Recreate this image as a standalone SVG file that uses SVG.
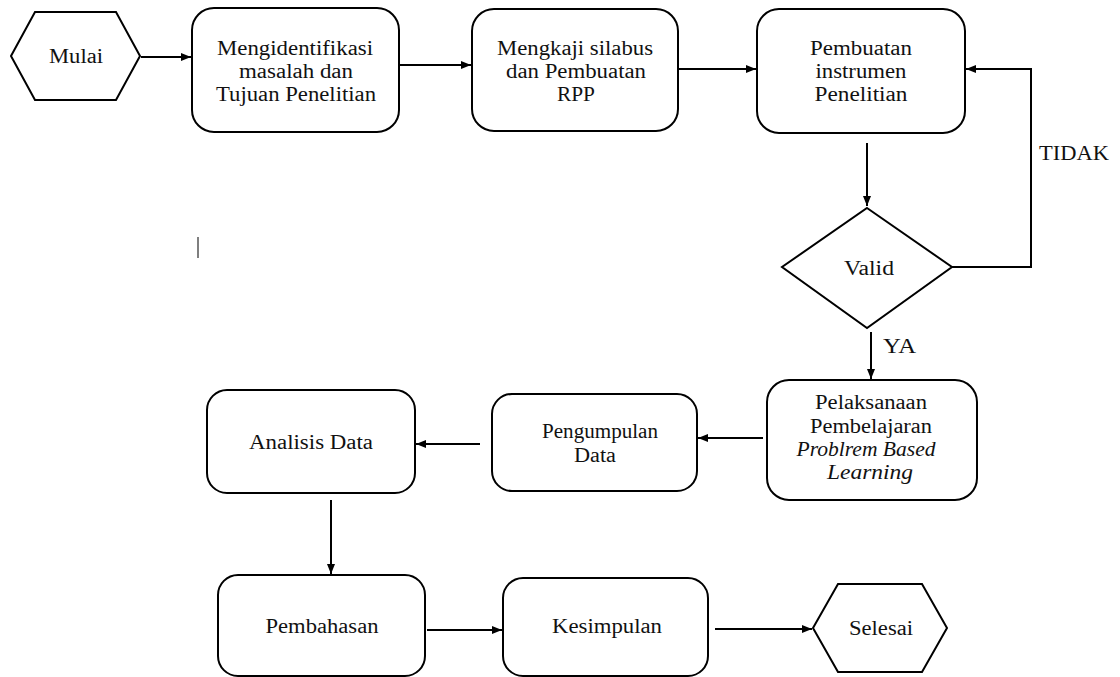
<svg xmlns="http://www.w3.org/2000/svg" width="1120" height="677" viewBox="0 0 1120 677">
<style>
.box{fill:#fff;stroke:#000;stroke-width:2}
.t{text-anchor:middle}
.c{fill:none;stroke:#000;stroke-width:2;marker-end:url(#ah)}
</style>
<defs>
<marker id="ah" markerUnits="userSpaceOnUse" markerWidth="11" markerHeight="9" refX="10" refY="4" orient="auto">
<path d="M0,0 L10,4 L0,8 z" fill="#000"/>
</marker>
</defs>
<rect width="1120" height="677" fill="#fff"/>
<g font-family="Liberation Serif, serif" font-size="20" fill="#111">
<g id="connectors">
<path class="c" d="M141,57 H191"/>
<path class="c" d="M400,65 H471"/>
<path class="c" d="M679,69 H756"/>
<path class="c" d="M867,143 V206"/>
<path class="c" d="M952,267 H1031 V69 H966"/>
<path class="c" d="M871,332 V379"/>
<path class="c" d="M763,438 H698"/>
<path class="c" d="M480,444 H416"/>
<path class="c" d="M331,500 V574"/>
<path class="c" d="M427,630 H502"/>
<path class="c" d="M715,629 H812"/>
<text x="1039" y="160" textLength="70" lengthAdjust="spacingAndGlyphs">TIDAK</text>
<text x="883" y="353" textLength="33" lengthAdjust="spacingAndGlyphs">YA</text>
</g>
<g id="mulai">
<polygon class="box" points="11,56 35,12 116,12 140,56 116,100 35,100"/>
<text class="t" x="76" y="63" textLength="54" lengthAdjust="spacingAndGlyphs">Mulai</text>
</g>
<g id="identifikasi">
<rect class="box" x="192" y="8" width="207" height="124" rx="22"/>
<text class="t" x="295" y="55" textLength="156" lengthAdjust="spacingAndGlyphs">Mengidentifikasi</text>
<text class="t" x="296" y="78" textLength="114" lengthAdjust="spacingAndGlyphs">masalah dan</text>
<text class="t" x="296" y="101" textLength="160" lengthAdjust="spacingAndGlyphs">Tujuan Penelitian</text>
</g>
<g id="silabus">
<rect class="box" x="472" y="9" width="206" height="122" rx="22"/>
<text class="t" x="575" y="55" textLength="156" lengthAdjust="spacingAndGlyphs">Mengkaji silabus</text>
<text class="t" x="576" y="78" textLength="140" lengthAdjust="spacingAndGlyphs">dan Pembuatan</text>
<text class="t" x="576" y="101" textLength="38" lengthAdjust="spacingAndGlyphs">RPP</text>
</g>
<g id="instrumen">
<rect class="box" x="757" y="9" width="208" height="124" rx="22"/>
<text class="t" x="861" y="55" textLength="102" lengthAdjust="spacingAndGlyphs">Pembuatan</text>
<text class="t" x="861" y="78" textLength="91" lengthAdjust="spacingAndGlyphs">instrumen</text>
<text class="t" x="861" y="101" textLength="93" lengthAdjust="spacingAndGlyphs">Penelitian</text>
</g>
<g id="valid">
<polygon class="box" points="867,208 952,267 867,328 782,267"/>
<text class="t" x="869" y="275" textLength="50" lengthAdjust="spacingAndGlyphs">Valid</text>
</g>
<g id="pelaksanaan">
<rect class="box" x="767" y="380" width="210" height="120" rx="22"/>
<text class="t" x="871" y="409" textLength="112" lengthAdjust="spacingAndGlyphs">Pelaksanaan</text>
<text class="t" x="871" y="433" textLength="122" lengthAdjust="spacingAndGlyphs">Pembelajaran</text>
<text class="t" font-style="italic" x="866" y="456" textLength="139" lengthAdjust="spacingAndGlyphs">Problrem Based</text>
<text class="t" font-style="italic" x="870" y="479" textLength="86" lengthAdjust="spacingAndGlyphs">Learning</text>
</g>
<g id="pengumpulan">
<rect class="box" x="492" y="394" width="205" height="97" rx="20"/>
<text class="t" x="600" y="438" textLength="116" lengthAdjust="spacingAndGlyphs">Pengumpulan</text>
<text class="t" x="595" y="462" textLength="42" lengthAdjust="spacingAndGlyphs">Data</text>
</g>
<g id="analisis">
<rect class="box" x="207" y="390" width="208" height="103" rx="20"/>
<text class="t" x="311" y="449" textLength="124" lengthAdjust="spacingAndGlyphs">Analisis Data</text>
</g>
<g id="pembahasan">
<rect class="box" x="218" y="575" width="207" height="101" rx="20"/>
<text class="t" x="322" y="633" textLength="113" lengthAdjust="spacingAndGlyphs">Pembahasan</text>
</g>
<g id="kesimpulan">
<rect class="box" x="503" y="578" width="205" height="98" rx="20"/>
<text class="t" x="607" y="633" textLength="110" lengthAdjust="spacingAndGlyphs">Kesimpulan</text>
</g>
<g id="selesai">
<polygon class="box" points="813,628 838,584 922,584 947,628 922,672 838,672"/>
<text class="t" x="881" y="635" textLength="64" lengthAdjust="spacingAndGlyphs">Selesai</text>
</g>
</g>
<line x1="198" y1="237" x2="198" y2="258" stroke="#555" stroke-width="1.5"/>
</svg>
